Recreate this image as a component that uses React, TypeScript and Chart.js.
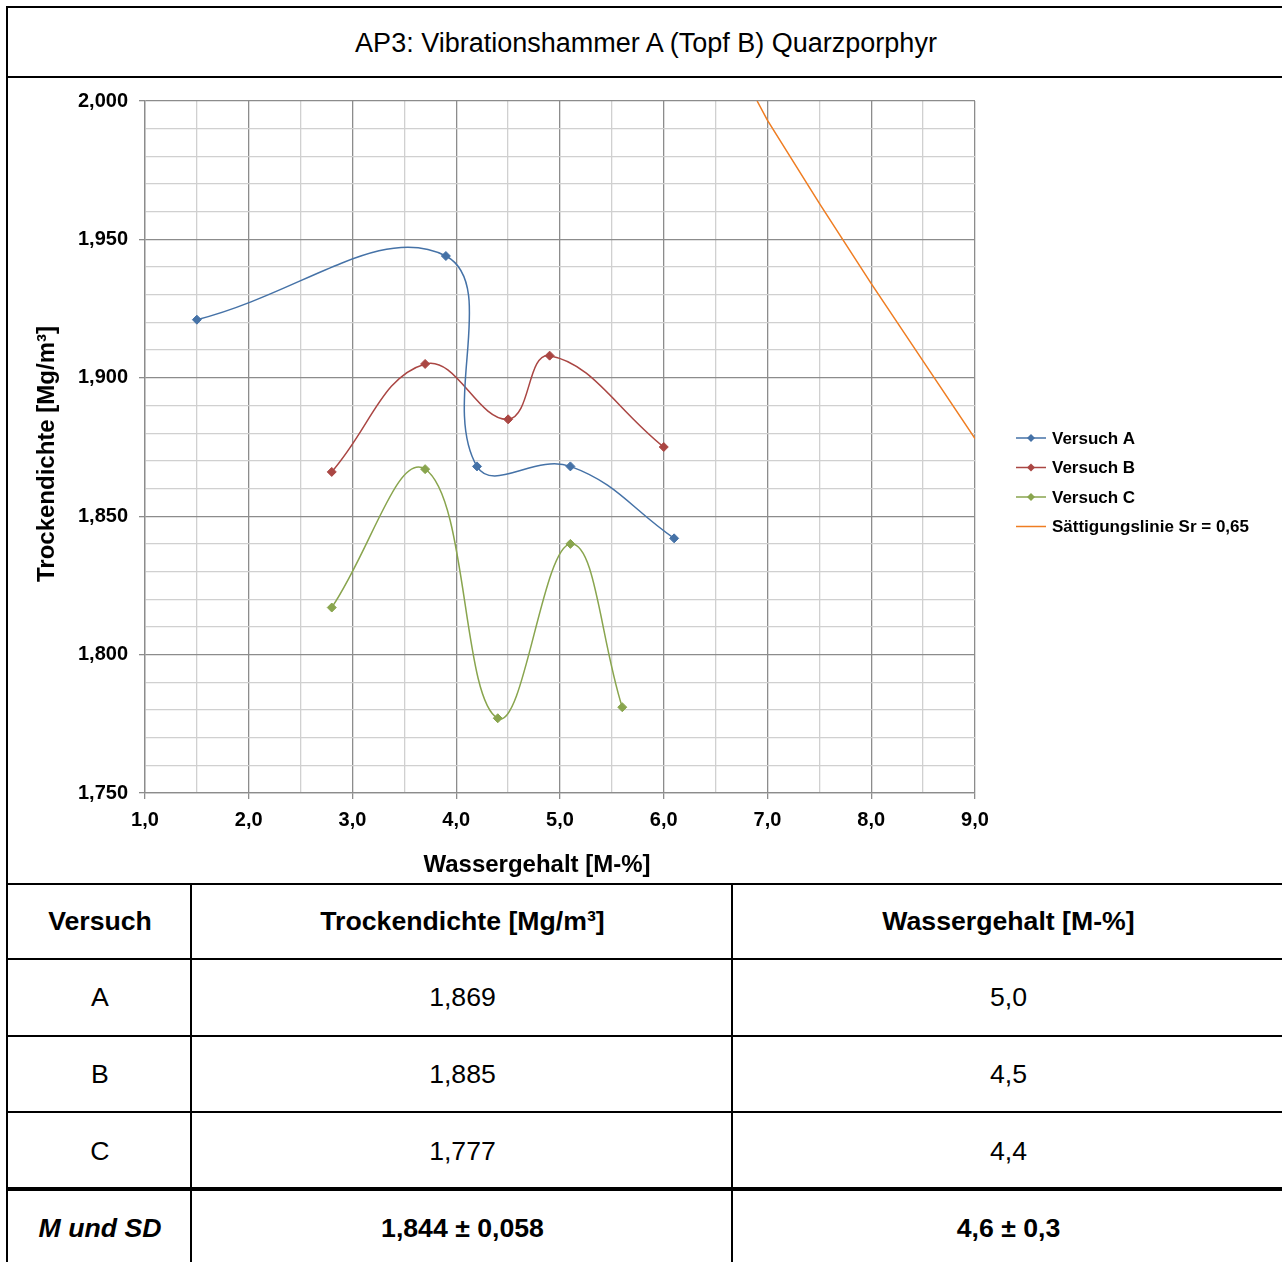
import React, { useEffect, useRef } from 'react';
import { Chart, registerables } from 'chart.js';

Chart.register(...registerables);

const FONT = '"Liberation Sans", Arial, Helvetica, sans-serif';

const chartTitle = 'AP3: Vibrationshammer A (Topf B) Quarzporphyr';
const xAxisTitle = 'Wassergehalt [M-%]';
const yAxisTitle = 'Trockendichte [Mg/m³]';

const seriesNames = ['Versuch A', 'Versuch B', 'Versuch C', 'Sättigungslinie Sr = 0,65'];
const seriesColors = ['#4572A7', '#AA4643', '#89A54E', '#EF7D22'];

const versuchAWater = [1.5, 3.9, 4.2, 5.1, 6.1];
const versuchADensity = [1.921, 1.944, 1.868, 1.868, 1.842];
const versuchBWater = [2.8, 3.7, 4.5, 4.9, 6.0];
const versuchBDensity = [1.866, 1.905, 1.885, 1.908, 1.875];
const versuchCWater = [2.8, 3.7, 4.4, 5.1, 5.6];
const versuchCDensity = [1.817, 1.867, 1.777, 1.84, 1.781];
const saturationWater = [6.9, 7.0, 7.5, 8.0, 8.5, 9.0];
const saturationDensity = [2.0, 1.993, 1.963, 1.934, 1.906, 1.878];

const xMin = 1;
const xMax = 9;
const xStep = 0.5;
const yMin = 1.75;
const yMax = 2.0;
const yStep = 0.01;

const tableHeaders = ['Versuch', 'Trockendichte [Mg/m³]', 'Wassergehalt [M-%]'];
const tableVersuch = ['A', 'B', 'C'];
const tableDensity = ['1,869', '1,885', '1,777'];
const tableWater = ['5,0', '4,5', '4,4'];
const summaryLabel = 'M und SD';
const summaryDensity = '1,844 ± 0,058';
const summaryWater = '4,6 ± 0,3';

const toPoints = (xs: number[], ys: number[]) => xs.map((x, i) => ({ x, y: ys[i] }));

const isMajorY = (v: number) => Math.round(v * 1000) % 50 === 0;
const isMajorX = (v: number) => Math.abs(v - Math.round(v)) < 1e-6;

const MAJOR = '#8c8c8c';
const MINOR = '#d0d0d0';

function drawDiamond(ctx: CanvasRenderingContext2D, x: number, y: number, r: number, color: string) {
  ctx.beginPath();
  ctx.moveTo(x, y - r);
  ctx.lineTo(x + r, y);
  ctx.lineTo(x, y + r);
  ctx.lineTo(x - r, y);
  ctx.closePath();
  ctx.fillStyle = color;
  ctx.fill();
}

const overlayPlugin = {
  id: 'overlayText',
  afterDraw(chart: any) {
    const ctx: CanvasRenderingContext2D = chart.ctx;
    ctx.save();
    ctx.fillStyle = '#000';
    ctx.textBaseline = 'middle';
    ctx.textAlign = 'center';
    ctx.font = `bold 24px ${FONT}`;
    ctx.fillText(xAxisTitle, 529, 787);
    ctx.save();
    ctx.translate(39, 376);
    ctx.rotate(-Math.PI / 2);
    ctx.fillText(yAxisTitle, 0, 0);
    ctx.restore();

    ctx.textAlign = 'left';
    ctx.font = `bold 17px ${FONT}`;
    chart.data.datasets.forEach((ds: any, i: number) => {
      const y = 360 + i * 29.5;
      ctx.strokeStyle = ds.borderColor;
      ctx.lineWidth = 1.5;
      ctx.beginPath();
      ctx.moveTo(1008, y);
      ctx.lineTo(1038, y);
      ctx.stroke();
      if (ds.pointRadius > 0) drawDiamond(ctx, 1023, y, 4, ds.borderColor);
      ctx.fillStyle = '#000';
      ctx.fillText(ds.label, 1044, y + 1);
    });
    ctx.restore();
  },
};

function ChartCanvas() {
  const ref = useRef<HTMLCanvasElement>(null);
  useEffect(() => {
    if (!ref.current) return;
    const series = [
      toPoints(versuchAWater, versuchADensity),
      toPoints(versuchBWater, versuchBDensity),
      toPoints(versuchCWater, versuchCDensity),
    ];
    const datasets: any[] = series.map((data, i) => ({
      label: seriesNames[i],
      data,
      borderColor: seriesColors[i],
      backgroundColor: seriesColors[i],
      pointBackgroundColor: seriesColors[i],
      pointBorderColor: seriesColors[i],
      pointStyle: 'rectRot',
      pointRadius: 4.5,
      pointBorderWidth: 1,
      borderWidth: 1.5,
      tension: 0.42,
    }));
    datasets.push({
      label: seriesNames[3],
      data: toPoints(saturationWater, saturationDensity),
      borderColor: seriesColors[3],
      backgroundColor: seriesColors[3],
      pointRadius: 0,
      borderWidth: 1.5,
      tension: 0,
    });

    const chart = new Chart(ref.current, {
      type: 'line',
      data: { datasets },
      plugins: [overlayPlugin],
      options: {
        animation: false,
        responsive: false,
        maintainAspectRatio: false,
        layout: { padding: { left: 0, right: 307, top: 21, bottom: 0 } },
        plugins: {
          legend: { display: false },
          tooltip: { enabled: false },
          title: { display: false },
        },
        scales: {
          x: {
            type: 'linear',
            min: xMin,
            max: xMax,
            afterFit: (scale: any) => {
              scale.height = 90;
            },
            ticks: {
              stepSize: xStep,
              autoSkip: false,
              maxRotation: 0,
              padding: 9,
              color: '#000',
              font: { family: FONT, size: 20, weight: 'bold' },
              callback: (v: any) => (isMajorX(Number(v)) ? Number(v).toFixed(1).replace('.', ',') : ''),
            },
            grid: {
              color: (c: any) => (c.tick && isMajorX(c.tick.value) ? MAJOR : MINOR),
              lineWidth: 1.3,
              tickLength: 6,
              tickColor: (c: any) => (c.tick && isMajorX(c.tick.value) ? MAJOR : 'rgba(0,0,0,0)'),
            },
            border: { color: MAJOR, width: 1.3 },
          },
          y: {
            type: 'linear',
            min: yMin,
            max: yMax,
            afterFit: (scale: any) => {
              scale.width = 137;
            },
            ticks: {
              stepSize: yStep,
              autoSkip: false,
              padding: 11,
              color: '#000',
              font: { family: FONT, size: 20, weight: 'bold' },
              callback: (v: any) => (isMajorY(Number(v)) ? Number(v).toFixed(3).replace('.', ',') : ''),
            },
            grid: {
              color: (c: any) => (c.tick && isMajorY(c.tick.value) ? MAJOR : MINOR),
              lineWidth: 1.3,
              tickLength: 6,
              tickColor: (c: any) => (c.tick && isMajorY(c.tick.value) ? MAJOR : 'rgba(0,0,0,0)'),
            },
            border: { color: MAJOR, width: 1.3 },
          },
        },
      } as any,
    });
    return () => chart.destroy();
  }, []);
  return <canvas ref={ref} width={1274} height={805} style={{ display: 'block', width: 1274, height: 805 }} />;
}

const H = (top: number, h: number, left = 6, right = 1300) => (
  <div style={{ position: 'absolute', left, top, width: right - left, height: h, background: '#000' }} />
);
const V = (left: number, w: number, top: number, bottom = 1300) => (
  <div style={{ position: 'absolute', left, top, width: w, height: bottom - top, background: '#000' }} />
);

const colX = [8, 192, 733, 1284];
const rowY = [885, 960, 1037, 1113, 1191, 1267];

function Cell({ col, row, children, style }: any) {
  return (
    <div
      style={{
        position: 'absolute',
        left: colX[col],
        top: rowY[row],
        width: colX[col + 1] - colX[col],
        height: rowY[row + 1] - rowY[row] - 2,
        display: 'flex',
        alignItems: 'center',
        justifyContent: 'center',
        fontSize: 26.67,
        color: '#000',
        whiteSpace: 'nowrap',
        ...style,
      }}
    >
      {children}
    </div>
  );
}

export default function App() {
  return (
    <div
      style={{
        position: 'absolute',
        left: 0,
        top: 0,
        width: 1282,
        height: 1262,
        overflow: 'hidden',
        background: '#fff',
        fontFamily: FONT,
      }}
    >
      {H(6, 2)}
      {H(76, 2)}
      {H(883, 2)}
      {H(958, 2)}
      {H(1035, 2)}
      {H(1111, 2)}
      {H(1187, 4)}
      {V(6, 2, 6)}
      {V(190, 2, 883)}
      {V(731, 2, 883)}
      <div
        style={{
          position: 'absolute',
          left: 8,
          top: 9,
          width: 1276,
          height: 68,
          display: 'flex',
          alignItems: 'center',
          justifyContent: 'center',
          fontSize: 27,
          color: '#000',
        }}
      >
        {chartTitle}
      </div>
      <div style={{ position: 'absolute', left: 8, top: 78, width: 1274, height: 805 }}>
        <ChartCanvas />
      </div>
      {tableHeaders.map((t, i) => (
        <Cell key={'h' + i} col={i} row={0} style={{ fontWeight: 'bold' }}>
          {t}
        </Cell>
      ))}
      {tableVersuch.map((v, r) => (
        <React.Fragment key={'r' + r}>
          <Cell col={0} row={r + 1}>{v}</Cell>
          <Cell col={1} row={r + 1}>{tableDensity[r]}</Cell>
          <Cell col={2} row={r + 1}>{tableWater[r]}</Cell>
        </React.Fragment>
      ))}
      <Cell col={0} row={4} style={{ fontWeight: 'bold', fontStyle: 'italic' }}>{summaryLabel}</Cell>
      <Cell col={1} row={4} style={{ fontWeight: 'bold' }}>{summaryDensity}</Cell>
      <Cell col={2} row={4} style={{ fontWeight: 'bold' }}>{summaryWater}</Cell>
    </div>
  );
}
